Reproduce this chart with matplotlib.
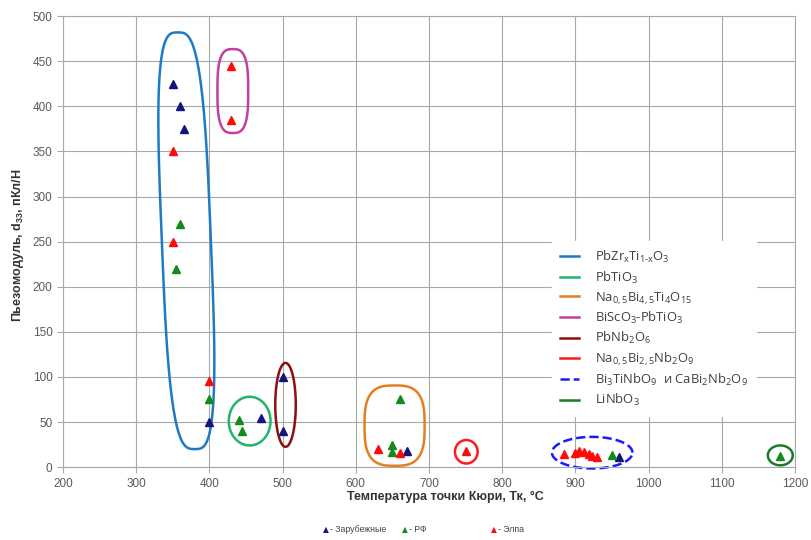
import numpy as np
import matplotlib
matplotlib.use('Agg')
import matplotlib.pyplot as plt
from matplotlib.patches import Polygon

plt.rcParams['font.family'] = ['Liberation Sans', 'DejaVu Sans']
plt.rcParams['mathtext.fontset'] = 'custom'
plt.rcParams['mathtext.rm'] = 'Open Sans'
plt.rcParams['mathtext.bf'] = 'Liberation Sans:bold'

# точки: Зарубежные / РФ / Элпа
abroad_t = [350, 360, 365, 400, 470, 500, 500, 670, 960]
abroad_d = [425, 400, 375, 50, 55, 100, 40, 18, 11]
rf_t = [360, 355, 400, 440, 445, 650, 650, 660, 950, 1180]
rf_d = [270, 220, 75, 52, 40, 25, 17, 75, 13, 12]
elpa_t = [350, 350, 400, 430, 430, 630, 660, 750, 885, 900, 905, 912, 918, 923, 930]
elpa_d = [350, 250, 95, 445, 385, 20, 16, 18, 14, 16, 18, 17, 14, 12, 11]

materials = [r'PbZr$_\mathrm{x}$Ti$_\mathrm{1\text{-}x}$O$_3$',
             r'PbTiO$_3$',
             r'Na$_{0,5}$Bi$_{4,5}$Ti$_4$O$_{15}$',
             r'BiScO$_3$-PbTiO$_3$',
             r'PbNb$_2$O$_6$',
             r'Na$_{0,5}$Bi$_{2,5}$Nb$_2$O$_9$',
             r'Bi$_3$TiNbO$_9$  и CaBi$_2$Nb$_2$O$_9$',
             r'LiNbO$_3$']
colors = ['#1f7ac4', '#22b46c', '#e67e22', '#c2409e', '#8b1010', '#ff1a1a', '#1a1aff', '#1e7a28']
styles = ['-', '-', '-', '-', '-', '-', '--', '-']

# контуры групп: центр x, центр y, ширина, высота, степень, наклон
shapes = [(368.5, 251, 67, 462, 3.2, -0.05),
          (455, 51, 57, 54, 2, 0),
          (653, 46, 82, 89, 3, 0),
          (432, 417, 42, 93, 3, 0),
          (504, 69, 28, 93, 2, 0),
          (751, 17, 31, 26, 2, 0),
          (923, 16, 110, 35, 2, 0),
          (1180, 13, 34, 22, 2, 0)]

fig = plt.figure(figsize=(8.12, 5.4), dpi=100)
ax = fig.add_axes([0.0776, 0.135, 0.9014, 0.835])

t = np.linspace(0, 2 * np.pi, 500, endpoint=False)
handles = []
for (cx, cy, w, h, n, sh), col, ls, lab in zip(shapes, colors, styles, materials):
    c, s = np.cos(t), np.sin(t)
    x = np.sign(c) * np.abs(c) ** (2 / n) * w / 2
    y = np.sign(s) * np.abs(s) ** (2 / n) * h / 2
    poly = Polygon(np.column_stack([cx + x + sh * y, cy + y]), closed=True,
                   fill=False, edgecolor=col, lw=1.8, ls=ls, clip_on=False,
                   zorder=2)
    ax.add_patch(poly)
    handles.append(ax.plot([], [], color=col, lw=1.8, ls=ls, label=lab)[0])

ax.plot(abroad_t, abroad_d, '^', color='#14147a', ms=6, ls='none', zorder=3)
ax.plot(rf_t, rf_d, '^', color='#14891e', ms=6, ls='none', zorder=3)
ax.plot(elpa_t, elpa_d, '^', color='#ff0a0a', ms=6, ls='none', zorder=3)

ax.set_xlim(200, 1200)
ax.set_ylim(0, 500)
ax.set_xticks(range(200, 1201, 100))
ax.set_yticks(range(0, 501, 50))
ax.grid(True, color='#a8a8a8', lw=0.8)
ax.set_axisbelow(True)
for sp in ax.spines.values():
    sp.set_color('#a8a8a8')
    sp.set_linewidth(0.8)
ax.tick_params(colors='#a8a8a8', labelcolor='#5a5a5a', labelsize=8.5, length=4)

ax.set_xlabel('Температура точки Кюри, Тк, °С', fontsize=9, fontweight='bold',
              color='#333333')
ax.xaxis.set_label_coords(0.522, -0.053)
ax.set_ylabel(r'Пьезомодуль, d$_\mathbf{33}$, пКл/Н', fontsize=9, fontweight='bold',
              color='#333333')
ax.yaxis.set_label_coords(-0.05, 0.492)

leg = ax.legend(handles=handles, loc='upper left', bbox_to_anchor=(0.668, 0.501),
                frameon=True, facecolor='white', edgecolor='white', framealpha=1,
                fancybox=False, prop={'family': 'Open Sans', 'size': 9.4},
                labelcolor='#404040', handlelength=1.5, handletextpad=1.2,
                labelspacing=0.33, borderpad=0.6, borderaxespad=0)
leg.set_zorder(4)

# нижняя легенда
for xp, col, txt in [(0.401, '#14147a', '- Зарубежные'),
                     (0.499, '#14891e', '- РФ'),
                     (0.608, '#ff0a0a', '- Элпа')]:
    fig.text(xp, 0.02, '▲', color=col, fontsize=5.5, family='DejaVu Sans',
             ha='center', va='center')
    fig.text(xp + 0.005, 0.02, txt, color='#444444', fontsize=6.3,
             ha='left', va='center')

fig.savefig('out.png', dpi=100)
